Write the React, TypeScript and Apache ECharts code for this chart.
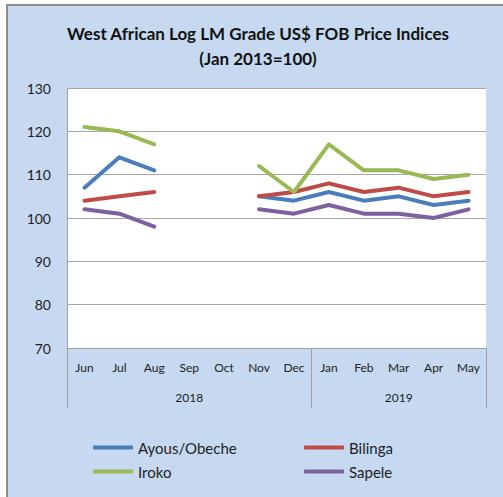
import React, { useEffect, useRef } from "react";
import * as echarts from "echarts";

const months = ["Jun", "Jul", "Aug", "Sep", "Oct", "Nov", "Dec", "Jan", "Feb", "Mar", "Apr", "May"];
const years = ["2018", "2019"];
const yearSpans = [7, 5];

const ayous = [107, 114, 111, null, null, 105, 104, 106, 104, 105, 103, 104];
const bilinga = [104, 105, 106, null, null, 105, 106, 108, 106, 107, 105, 106];
const iroko = [121, 120, 117, null, null, 112, 106, 117, 111, 111, 109, 110];
const sapele = [102, 101, 98, null, null, 102, 101, 103, 101, 101, 100, 102];

const seriesNames = ["Ayous/Obeche", "Bilinga", "Iroko", "Sapele"];
const seriesColors = ["#4A7EBB", "#BE4B48", "#98B954", "#7D60A0"];

const FONT = "Lato";

export default function App() {
  const ref = useRef<HTMLDivElement>(null);

  useEffect(() => {
    if (!ref.current) return;
    const chart = echarts.init(ref.current, null, { renderer: "svg" });

    // year labels placed at the centre category of each span
    const yearAxisData: string[] = months.map(() => "");
    let start = 0;
    yearSpans.forEach((span, i) => {
      const centre = start + Math.floor((span - 1) / 2);
      yearAxisData[centre] = years[i];
      start += span;
    });
    const boundaries: number[] = [];
    let acc = 0;
    yearSpans.forEach((span) => {
      boundaries.push(acc);
      acc += span;
    });

    const datas = [ayous, bilinga, iroko, sapele];

    chart.setOption({
      animation: false,
      textStyle: { fontFamily: FONT },
      graphic: [
        {
          type: "text",
          x: 258,
          y: 25,
          style: {
            text: "West African Log LM Grade US$ FOB Price Indices",
            font: `bold 17px ${FONT}`,
            fill: "#111",
            textAlign: "center",
          },
        },
        {
          type: "text",
          x: 258,
          y: 50,
          style: {
            text: "(Jan 2013=100)",
            font: `bold 17px ${FONT}`,
            fill: "#111",
            textAlign: "center",
          },
        },
      ],
      grid: {
        left: 67,
        top: 88,
        right: 17,
        bottom: 149,
        show: true,
        backgroundColor: "#ffffff",
        borderWidth: 0,
      },
      legend: [
        {
          data: [seriesNames[0], seriesNames[2]],
          orient: "vertical",
          left: 93,
          top: 440,
          padding: 0,
          itemWidth: 40,
          itemHeight: 4,
          itemGap: 9,
          icon: "roundRect",
          textStyle: { fontSize: 15, color: "#222", fontFamily: FONT },
        },
        {
          data: [seriesNames[1], seriesNames[3]],
          orient: "vertical",
          left: 304,
          top: 440,
          padding: 0,
          itemWidth: 40,
          itemHeight: 4,
          itemGap: 9,
          icon: "roundRect",
          textStyle: { fontSize: 15, color: "#222", fontFamily: FONT },
        },
      ],
      xAxis: [
        {
          type: "category",
          data: months,
          boundaryGap: true,
          axisLine: { show: true, lineStyle: { color: "#A0A0A0", width: 1 } },
          axisTick: {
            show: true,
            length: 60,
            interval: (i: number) => boundaries.includes(i),
            lineStyle: { color: "#A0A0A0", width: 1 },
          },
          axisLabel: { interval: 0, fontSize: 12, color: "#222", margin: 13 },
        },
        {
          type: "category",
          data: yearAxisData,
          position: "bottom",
          offset: 30,
          boundaryGap: true,
          axisLine: { show: false },
          axisTick: { show: false },
          axisLabel: { interval: 0, fontSize: 12, color: "#222", margin: 13 },
        },
      ],
      yAxis: {
        type: "value",
        min: 70,
        max: 130,
        interval: 10,
        axisLine: { show: true, lineStyle: { color: "#A0A0A0", width: 1 } },
        axisTick: { show: false },
        splitLine: { lineStyle: { color: "#A6A6A6", width: 1 } },
        axisLabel: { fontSize: 14, color: "#222", margin: 16 },
      },
      series: datas.map((d, i) => ({
        name: seriesNames[i],
        type: "line",
        data: d,
        xAxisIndex: 0,
        connectNulls: false,
        showSymbol: false,
        symbol: "none",
        color: seriesColors[i],
        lineStyle: { width: 4, color: seriesColors[i], cap: "round", join: "round" },
      })),
    });

    return () => chart.dispose();
  }, []);

  return (
    <div style={{ position: "fixed", left: 0, top: 0, width: 503, height: 497, background: "#ffffff", overflow: "hidden" }}>
      <div
        style={{
          position: "absolute",
          left: 6,
          top: 4,
          width: 503,
          height: 497,
          background: "#C6D9F1",
          borderTop: "2px solid #8C8C8C",
          borderLeft: "2px solid #8C8C8C",
        }}
      />
      <div ref={ref} style={{ position: "absolute", left: 0, top: 0, width: 503, height: 497 }} />
    </div>
  );
}
